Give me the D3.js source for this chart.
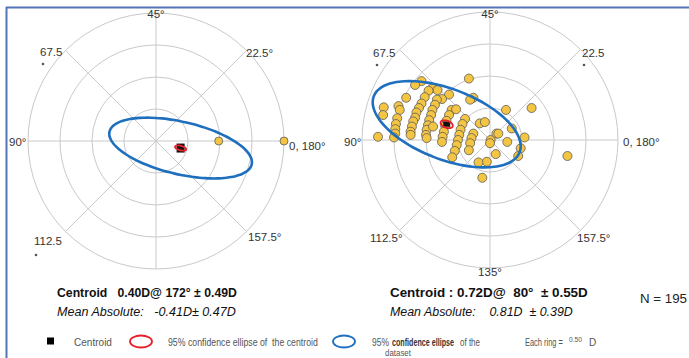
<!DOCTYPE html>
<html><head><meta charset="utf-8">
<script src="https://cdn.jsdelivr.net/npm/d3@7"></script>
<style>
html,body{margin:0;padding:0;background:#fff;}
svg{display:block;}
text{font-family:'Liberation Sans','Arial',sans-serif;}
</style></head><body>
<svg id="c" width="689" height="358"></svg>
<script>
// ---------- data ----------
const ringStep = 0.5;               // D per ring
const ringCount = 4;
const axisLabelsLeft  = ["45°","22.5°","67.5","90°","0, 180°","157.5°","112.5"];
const axisLabelsRight = ["45°","22.5","67.5","90°","0, 180°","157.5°","112.5°","135°"];

// left plot (double-angle coordinates, D)
const leftX = [0.98, 2.0];
const leftY = [0.0, 0.0];
const leftCentroid = {mag:0.40, axis:172};
const leftEllipse  = {a:1.14, b:0.41, rot:-13};
const leftCentEll  = {a:0.09, b:0.035, rot:-15};

// right plot (double-angle coordinates, D)
const rightX = [-0.33,-1.07,-1.17,-0.90,-0.82,-0.96,-0.64,-1.31,-0.75,-0.26,-0.31,-1.02,-1.43,-1.41,-1.66,-1.67,-1.07,-1.11,-1.15,-1.17,-1.20,-1.22,-1.24,-1.24,-1.45,-1.47,-1.48,-1.48,-1.50,-1.75,-0.83,-0.86,-0.90,-0.92,-0.95,-0.97,-0.99,-1.00,-0.99,-0.89,-0.60,-0.64,-0.68,-0.70,-0.72,-0.74,-0.75,-0.53,-0.39,-0.43,-0.46,-0.48,-0.50,-0.52,-0.55,-0.59,-0.26,-0.29,-0.31,-0.33,-0.16,-0.08,0.01,0.10,0.13,0.00,0.27,0.25,0.34,0.54,0.48,0.44,0.65,1.21,0.09,-0.05,-0.18,-0.12];
const rightY = [0.96,0.92,0.86,0.81,0.78,0.77,0.71,0.66,0.64,0.66,0.63,0.67,0.53,0.47,0.51,0.39,0.57,0.50,0.43,0.35,0.29,0.21,0.13,0.08,0.34,0.25,0.17,0.10,0.04,0.05,0.63,0.55,0.47,0.39,0.31,0.23,0.16,0.08,0.03,0.21,0.47,0.39,0.30,0.22,0.13,0.05,-0.03,0.48,0.33,0.25,0.16,0.08,0.00,-0.08,-0.17,-0.27,0.10,0.03,-0.05,-0.16,0.26,0.28,0.00,0.10,0.10,-0.05,-0.03,0.47,0.18,0.04,-0.13,-0.25,0.50,-0.25,-0.22,-0.34,-0.35,-0.59];
const rightCentroid = {mag:0.72, axis:80};
const rightEllipse  = {a:1.22, b:0.55, rot:-21};
const rightCentEll  = {a:0.10, b:0.055, rot:-20};

const textLeft1  = "Centroid   0.40D@ 172° ± 0.49D";
const textLeft2  = "Mean Absolute:   -0.41D± 0.47D";
const textRight1 = "Centroid : 0.72D@  80°  ± 0.55D";
const textRight2 = "Mean Absolute:    0.81D  ± 0.39D";
const nText = "N = 195";

// ---------- drawing ----------
const svg = d3.select("#c");
const R = 128;
const maxD = ringStep*ringCount;

// frame
svg.append("line").attr("x1",6).attr("x2",689).attr("y1",7.5).attr("y2",7.5).attr("stroke","#5574b8").attr("stroke-width",2);
svg.append("line").attr("x1",6.5).attr("x2",6.5).attr("y1",7).attr("y2",358).attr("stroke","#5574b8").attr("stroke-width",2);

function polarPlot(cx, cy, xs, ys, centroid, ell, cell, labels, ptR, sq){
  const g = svg.append("g");
  const x = d3.scaleLinear().domain([-maxD,maxD]).range([cx-R,cx+R]);
  const y = d3.scaleLinear().domain([-maxD,maxD]).range([cy+R,cy-R]);
  const r = d3.scaleLinear().domain([0,maxD]).range([0,R]);
  const rings = d3.range(1,ringCount+1).map(i=>i*ringStep);
  g.selectAll("circle.ring").data(rings).enter().append("circle")
    .attr("cx",cx).attr("cy",cy).attr("r",d=>r(d))
    .attr("fill","none").attr("stroke","#c9c9c9").attr("stroke-width",1);
  [0,45,90,135].forEach(a=>{
    const t=a*Math.PI/180;
    g.append("line")
      .attr("x1",x(-maxD*Math.cos(t))).attr("y1",y(-maxD*Math.sin(t)))
      .attr("x2",x(maxD*Math.cos(t))).attr("y2",y(maxD*Math.sin(t)))
      .attr("stroke","#c9c9c9").attr("stroke-width",1);
  });
  // labels
  labels.forEach(l=>{
    g.append("text").attr("x",cx+l.dx).attr("y",cy+l.dy).attr("text-anchor",l.anchor||"start")
      .attr("font-size",11.5).attr("fill","#333").text(l.t);
    if(l.dot){ g.append("circle").attr("cx",cx+l.dot[0]).attr("cy",cy+l.dot[1]).attr("r",1.3).attr("fill","#555"); }
  });
  // points
  const pts = xs.map((v,i)=>({x:v,y:ys[i]}));
  g.selectAll("circle.pt").data(pts).enter().append("circle")
    .attr("cx",d=>x(d.x)).attr("cy",d=>y(d.y)).attr("r",ptR)
    .attr("fill","#f4c542").attr("stroke","#5a5a5a").attr("stroke-width",0.8);
  // centroid
  const t2 = 2*centroid.axis*Math.PI/180;
  const c = {x:centroid.mag*Math.cos(t2), y:centroid.mag*Math.sin(t2)};
  function ellPath(e){
    const rr = e.rot*Math.PI/180;
    const ps = d3.range(0,72).map(i=>{
      const t=i/72*2*Math.PI;
      const ex=e.a*Math.cos(t), ey=e.b*Math.sin(t);
      return [x(c.x+ex*Math.cos(rr)-ey*Math.sin(rr)), y(c.y+ex*Math.sin(rr)+ey*Math.cos(rr))];
    });
    return d3.line().curve(d3.curveCardinalClosed)(ps);
  }
  g.append("path").attr("d",ellPath(ell)).attr("fill","none").attr("stroke","#1f6fbf").attr("stroke-width",2.6);
  g.append("rect").attr("x",x(c.x)-sq[0]/2).attr("y",y(c.y)-sq[1]/2).attr("width",sq[0]).attr("height",sq[1]).attr("fill","#111");
  g.append("path").attr("d",ellPath(cell)).attr("fill","none").attr("stroke","#e8202a").attr("stroke-width",1.8);
}

polarPlot(156,141,leftX,leftY,leftCentroid,leftEllipse,leftCentEll,[
  {t:axisLabelsLeft[0],dx:0,dy:-123,anchor:"middle"},
  {t:axisLabelsLeft[1],dx:90,dy:-84},
  {t:axisLabelsLeft[2],dx:-116,dy:-85,dot:[-113,-77]},
  {t:axisLabelsLeft[3],dx:-147,dy:5},
  {t:axisLabelsLeft[4],dx:133,dy:9},
  {t:axisLabelsLeft[5],dx:92,dy:100},
  {t:axisLabelsLeft[6],dx:-122,dy:104,dot:[-120,114]}
],4,[8,9]);

polarPlot(490,140,rightX,rightY,rightCentroid,rightEllipse,rightCentEll,[
  {t:axisLabelsRight[0],dx:0,dy:-122,anchor:"middle"},
  {t:axisLabelsRight[1],dx:92,dy:-83,dot:[94,-75]},
  {t:axisLabelsRight[2],dx:-117,dy:-83,dot:[-113,-75]},
  {t:axisLabelsRight[3],dx:-146,dy:6},
  {t:axisLabelsRight[4],dx:133,dy:6},
  {t:axisLabelsRight[5],dx:87,dy:102},
  {t:axisLabelsRight[6],dx:-120,dy:102},
  {t:axisLabelsRight[7],dx:0,dy:136,anchor:"middle"}
],4.5,[7,5]);

// text squeezed horizontally to a target width via a scale transform
function fitText(parent, x0, y0, width, txt, attrs){
  const g = parent.append("g");
  const t = g.append("text").attr("x",0).attr("y",0).style("white-space","pre").text(txt);
  Object.entries(attrs||{}).forEach(([k,v])=>t.attr(k,v));
  const w = t.node().getComputedTextLength() || width;
  g.attr("transform",`translate(${x0},${y0}) scale(${width/w},1)`);
  return t;
}

// stats text
fitText(svg,57,297,180,textLeft1,{"font-size":13.5,"font-weight":"bold","fill":"#111"});
fitText(svg,57,316,179,textLeft2,{"font-size":13.5,"font-style":"italic","fill":"#111"});
fitText(svg,390,297,198,textRight1,{"font-size":13.5,"font-weight":"bold","fill":"#111"});
fitText(svg,390,316,183,textRight2,{"font-size":13.5,"font-style":"italic","fill":"#111"});
fitText(svg,640,303,47,nText,{"font-size":13,"fill":"#222"});

// legend
const lg = svg.append("g").attr("font-size",10).attr("fill","#555");
const ly = 345.5;
lg.append("rect").attr("x",47).attr("y",ly-8).attr("width",7).attr("height",7).attr("fill","#000");
fitText(lg,74,ly,38,"Centroid");
lg.append("ellipse").attr("cx",141).attr("cy",ly-4).attr("rx",11).attr("ry",6).attr("fill","none").attr("stroke","#e8202a").attr("stroke-width",1.8);
fitText(lg,168,ly,150,"95% confidence ellipse of  the centroid");
lg.append("ellipse").attr("cx",344).attr("cy",ly-4).attr("rx",11).attr("ry",6).attr("fill","none").attr("stroke","#1f6fbf").attr("stroke-width",1.8);
fitText(lg,372,ly,17,"95%");
fitText(lg,392,ly,62,"confidence ellipse",{"font-weight":"bold","fill":"#333"});
fitText(lg,460,ly,20,"of the");
fitText(lg,385,356,26,"dataset",{"font-size":8.5});
fitText(lg,525,ly,38,"Each ring =");
fitText(lg,569,ly-4,13,ringStep.toFixed(2),{"font-size":7.5});
lg.append("text").attr("x",589).attr("y",ly).text("D");
</script></body></html>
